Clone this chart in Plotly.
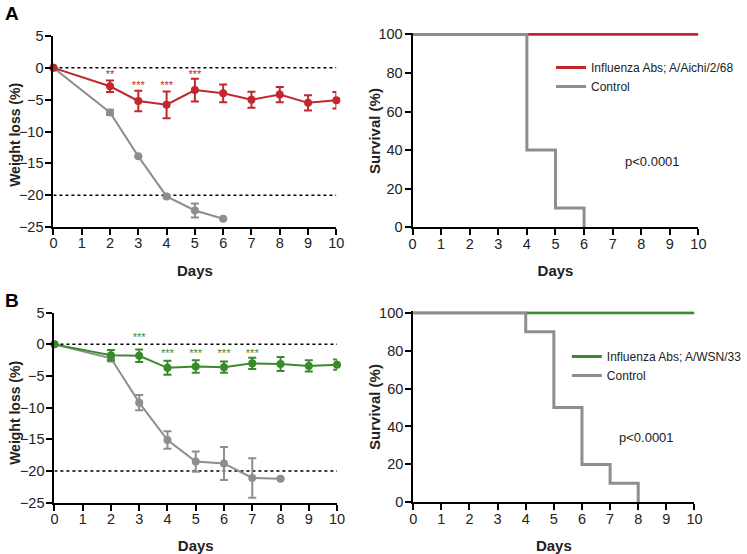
import plotly.graph_objects as go

# ---------------- data ----------------
days = [0, 2, 3, 4, 5, 6, 7, 8, 9, 10]

# Panel A – weight loss
a_flu_w = [0, -2.9, -5.2, -5.8, -3.5, -4.0, -5.0, -4.2, -5.5, -5.1]
a_flu_err = [0, 0.9, 1.6, 2.1, 1.8, 1.4, 1.25, 1.2, 1.2, 1.3]
a_ctrl_days = [0, 2, 3, 4, 5, 6]
a_ctrl_w = [0, -7.0, -13.9, -20.2, -22.4, -23.7]
a_ctrl_err = [0, 0.4, 0, 0, 1.1, 0]
a_star_days = [2, 3, 4, 5]
a_star_y = [-1.2, -2.9, -2.9, -1.2]
a_star_txt = ["**", "***", "***", "***"]

# Panel A – survival
a_surv_flu_x = [0, 10]
a_surv_flu_y = [100, 100]
a_surv_ctrl_x = [0, 4, 5, 6]
a_surv_ctrl_y = [100, 40, 10, 0]

# Panel B – weight loss
b_flu_w = [0, -1.7, -1.8, -3.7, -3.5, -3.6, -3.0, -3.1, -3.4, -3.2]
b_flu_err = [0, 0.8, 1.0, 1.1, 1.0, 0.9, 0.9, 1.1, 0.9, 0.8]
b_ctrl_days = [0, 2, 3, 4, 5, 6, 7, 8]
b_ctrl_w = [0, -2.2, -9.2, -15.1, -18.5, -18.8, -21.1, -21.2]
b_ctrl_err = [0, 0.5, 1.2, 1.4, 1.6, 2.6, 3.1, 0]
b_star_days = [3, 4, 5, 6, 7]
b_star_y = [1.0, -1.5, -1.5, -1.5, -1.5]
b_star_txt = ["***", "***", "***", "***", "***"]

# Panel B – survival
b_surv_flu_x = [0, 10]
b_surv_flu_y = [100, 100]
b_surv_ctrl_x = [0, 4, 5, 6, 7, 8]
b_surv_ctrl_y = [100, 90, 50, 20, 10, 0]

x_ticks = [0, 1, 2, 3, 4, 5, 6, 7, 8, 9, 10]
w_ticks = [5, 0, -5, -10, -15, -20, -25]
s_ticks = [0, 20, 40, 60, 80, 100]

RED = "#c1272d"
GREEN = "#3a8a2c"
GRAY = "#8e8e8e"
FONT = "Liberation Sans, Arial, sans-serif"

W, H = 747, 554


def dom_x(a, b):
    return [a / W, b / W]


def dom_y(top, bottom):
    return [1 - bottom / H, 1 - top / H]


fig = go.Figure()


def weight_traces(xa, ya, flu_w, flu_err, ctrl_days, ctrl_w, ctrl_err, color,
                  star_days, star_y, star_txt):
    fig.add_trace(go.Scatter(
        x=ctrl_days, y=ctrl_w, xaxis=xa, yaxis=ya, mode="lines+markers",
        line=dict(color=GRAY, width=2), marker=dict(color=GRAY, size=8),
        error_y=dict(type="data", array=ctrl_err, color=GRAY, thickness=2, width=4),
        showlegend=False, cliponaxis=False))
    fig.add_trace(go.Scatter(
        x=days, y=flu_w, xaxis=xa, yaxis=ya, mode="lines+markers",
        line=dict(color=color, width=2), marker=dict(color=color, size=8),
        error_y=dict(type="data", array=flu_err, color=color, thickness=2, width=4),
        showlegend=False, cliponaxis=False))
    fig.add_trace(go.Scatter(
        x=star_days, y=star_y, xaxis=xa, yaxis=ya, mode="text",
        text=star_txt, textfont=dict(color=color, size=11, family=FONT),
        textposition="middle center", showlegend=False, cliponaxis=False))


def surv_traces(xa, ya, fx, fy, cx, cy, color, name, legend):
    fig.add_trace(go.Scatter(
        x=fx, y=fy, xaxis=xa, yaxis=ya, mode="lines", line=dict(color=color, width=3, shape="hv"),
        name=name, legend=legend))
    fig.add_trace(go.Scatter(
        x=cx, y=cy, xaxis=xa, yaxis=ya, mode="lines", line=dict(color=GRAY, width=3, shape="hv"),
        name="Control", legend=legend))


weight_traces("x", "y", a_flu_w, a_flu_err, a_ctrl_days, a_ctrl_w, a_ctrl_err, RED,
              a_star_days, a_star_y, a_star_txt)
surv_traces("x2", "y2", a_surv_flu_x, a_surv_flu_y, a_surv_ctrl_x, a_surv_ctrl_y, RED,
            "Influenza Abs; A/Aichi/2/68", "legend")
weight_traces("x3", "y3", b_flu_w, b_flu_err, b_ctrl_days, b_ctrl_w, b_ctrl_err, GREEN,
              b_star_days, b_star_y, b_star_txt)
surv_traces("x4", "y4", b_surv_flu_x, b_surv_flu_y, b_surv_ctrl_x, b_surv_ctrl_y, GREEN,
            "Influenza Abs; A/WSN/33", "legend2")

axis_common = dict(showline=True, linecolor="black", linewidth=2, ticks="outside",
                   ticklen=6, tickwidth=1.5, tickcolor="black", showgrid=False, zeroline=False,
                   automargin=False,
                   tickfont=dict(family=FONT, size=14.5, color="#222"))

title_font = dict(family=FONT, size=15, color="#222")


def xaxis(domain, anchor):
    return dict(axis_common, domain=domain, anchor=anchor, range=[0, 10], tickvals=x_ticks,
                ticklabelstandoff=-4,
                title=dict(text="<b>Days</b>", font=title_font))


def yaxis(domain, anchor, rng, ticks):
    return dict(axis_common, domain=domain, anchor=anchor, range=rng, tickvals=ticks,
                ticklabelstandoff=-1)


legend_font = dict(family=FONT, size=12, color="#222")

fig.update_layout(
    width=W, height=H, margin=dict(l=0, r=0, t=0, b=0),
    plot_bgcolor="white", paper_bgcolor="white",
    xaxis=xaxis(dom_x(54, 340), "y"),
    yaxis=yaxis(dom_y(36, 227), "x", [-25, 5], w_ticks),
    xaxis2=xaxis(dom_x(417, 706), "y2"),
    yaxis2=yaxis(dom_y(33, 227.3), "x2", [0, 100.7], s_ticks),
    xaxis3=xaxis(dom_x(55, 340.7), "y3"),
    yaxis3=yaxis(dom_y(312.7, 502.7), "x3", [-25, 5], w_ticks),
    xaxis4=xaxis(dom_x(417.7, 702), "y4"),
    yaxis4=yaxis(dom_y(311.4, 502.3), "x4", [0, 100.7], s_ticks),
    legend=dict(x=557 / W, y=1 - 53 / H, xanchor="left", yanchor="top",
                font=legend_font, bgcolor="rgba(0,0,0,0)",
                tracegroupgap=0, borderwidth=0),
    legend2=dict(x=573 / W, y=1 - 342 / H, xanchor="left", yanchor="top",
                 font=legend_font, bgcolor="rgba(0,0,0,0)",
                 tracegroupgap=0, borderwidth=0),
    font=dict(family=FONT),
)

# y-axis titles
for (xc, yc, txt, fs) in [(15, 135, "Weight loss (%)", 14), (378, 131, "Survival (%)", 15),
                          (15, 413, "Weight loss (%)", 14), (378, 407, "Survival (%)", 15)]:
    fig.add_annotation(x=xc / W, y=1 - yc / H, xref="paper", yref="paper",
                       text=f"<b>{txt}</b>", textangle=-90, showarrow=False,
                       xanchor="center", yanchor="middle",
                       font=dict(family=FONT, size=fs, color="#222"))

# reference dotted lines at 0 and -20 %
for ya in ["y", "y3"]:
    for yv in [0, -20]:
        fig.add_shape(type="line", xref="x" if ya == "y" else "x3", yref=ya,
                      x0=0, x1=10, y0=yv, y1=yv, line=dict(color="black", width=1.5, dash="dot"),
                      layer="below")

# p-values
fig.add_annotation(x=0.84, y=0.337, xref="x2 domain", yref="y2 domain", text="p<0.0001",
                   showarrow=False, xanchor="center", yanchor="middle",
                   font=dict(family=FONT, size=13, color="#222"))
fig.add_annotation(x=0.83, y=0.337, xref="x4 domain", yref="y4 domain", text="p<0.0001",
                   showarrow=False, xanchor="center", yanchor="middle",
                   font=dict(family=FONT, size=13, color="#222"))

# panel letters
fig.add_annotation(x=3 / W, y=1 - 1 / H, xref="paper", yref="paper", text="<b>A</b>",
                   showarrow=False, xanchor="left", yanchor="top",
                   font=dict(family=FONT, size=19, color="black"))
fig.add_annotation(x=3 / W, y=1 - 288 / H, xref="paper", yref="paper", text="<b>B</b>",
                   showarrow=False, xanchor="left", yanchor="top",
                   font=dict(family=FONT, size=19, color="black"))

fig.write_html("out.html", config={"displayModeBar": False},
               post_script="document.body.style.margin='0';")
